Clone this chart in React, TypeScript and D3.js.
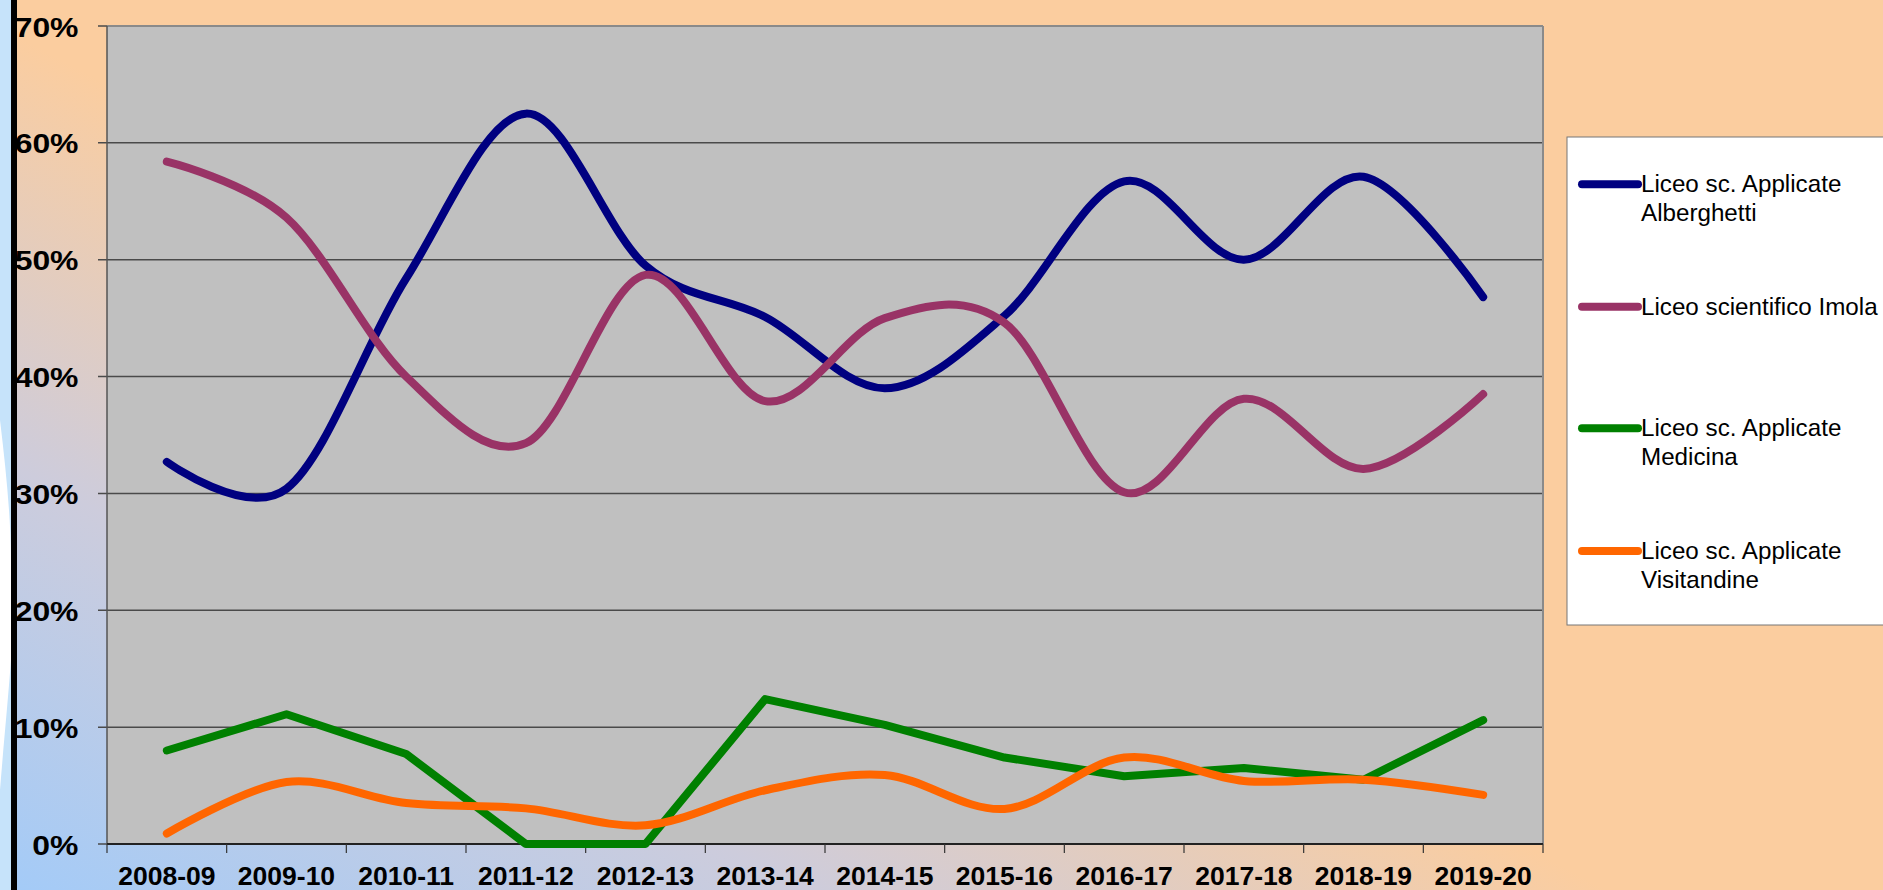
import React from 'react';
import * as d3 from 'd3';

const categories = ['2008-09', '2009-10', '2010-11', '2011-12', '2012-13', '2013-14', '2014-15', '2015-16', '2016-17', '2017-18', '2018-19', '2019-20'];
const alberghetti = [32.7, 30.4, 48.4, 62.5, 49.5, 45.1, 39.0, 45.2, 56.7, 50.0, 57.1, 46.8];
const imola = [58.4, 53.6, 40.0, 34.3, 48.7, 37.9, 45.0, 44.6, 30.1, 38.1, 32.1, 38.5];
const medicina = [8.0, 11.1, 7.7, 0, 0, 12.4, 10.2, 7.4, 5.8, 6.5, 5.5, 10.6];
const visitandine = [0.9, 5.3, 3.5, 3.05, 1.6, 4.6, 5.9, 3.0, 7.4, 5.4, 5.5, 4.2];
const yTicks = [0, 10, 20, 30, 40, 50, 60, 70];

const seriesNames = [['Liceo sc. Applicate', 'Alberghetti'], ['Liceo scientifico Imola'], ['Liceo sc. Applicate', 'Medicina'], ['Liceo sc. Applicate', 'Visitandine']];
const seriesColors = ['#000080', '#993366', '#008000', '#FF6600'];
const seriesData = [alberghetti, imola, medicina, visitandine];
const seriesSmooth = [true, true, false, true];

const W = 1883;
const H = 890;
const FONT = '"Liberation Sans", Arial, Helvetica, sans-serif';

export default function App() {
  const plot = { left: 107, right: 1543, top: 26, bottom: 844 };
  const x = d3.scaleBand<string>().domain(categories).range([plot.left, plot.right]);
  const y = d3.scaleLinear().domain([0, 70]).range([plot.bottom, plot.top]);
  const cx = (c: string) => (x(c) as number) + x.bandwidth() / 2;

  const lineFor = (smooth: boolean) =>
    d3.line<number>()
      .x((_, i) => cx(categories[i]))
      .y((v) => y(v))
      .curve(smooth ? d3.curveCardinal.tension(0) : d3.curveLinear);

  const legendX = 1567;
  const legendTop = 137;
  const legendLineY = [184.3, 306.7, 428.3, 551];

  return (
    <svg width={W} height={H} style={{ position: 'absolute', left: 0, top: 0, display: 'block' }} fontFamily={FONT}>
      <defs>
        <linearGradient id="bg" gradientUnits="userSpaceOnUse" x1={0} y1={890} x2={360} y2={220}>
          <stop offset="0" stopColor="#A3CBF8" />
          <stop offset="0.5" stopColor="#CDCCDC" />
          <stop offset="1" stopColor="#FBCD9F" />
        </linearGradient>
      </defs>
      <rect x={0} y={0} width={W} height={H} fill="#FBCD9F" />
      <rect x={0} y={0} width={W} height={H} fill="url(#bg)" />
      {/* left decorative strip */}
      <rect x={0} y={0} width={12} height={H} fill="#C6E3FA" />
      <path d="M0,420 C6,470 11,520 11,560 L11,660 C8,700 4,740 0,790 Z" fill="#FFFFFF" />
      <rect x={11} y={0} width={6} height={H} fill="#000000" />

      {/* plot area */}
      <rect x={plot.left} y={plot.top} width={plot.right - plot.left} height={plot.bottom - plot.top} fill="#C0C0C0" />
      {yTicks.map((t) => (
        <line key={'g' + t} x1={plot.left - 9} x2={t === 0 || t === 70 ? plot.left : plot.right} y1={y(t)} y2={y(t)} stroke="#4A4A4A" strokeWidth={1.5} />
      ))}
      <line x1={plot.left} x2={plot.right} y1={plot.top} y2={plot.top} stroke="#8A8A8A" strokeWidth={2} />
      <line x1={plot.right} x2={plot.right} y1={plot.top} y2={plot.bottom} stroke="#8A8A8A" strokeWidth={2} />
      <line x1={plot.left} x2={plot.left} y1={plot.top} y2={plot.bottom} stroke="#555555" strokeWidth={1.5} />
      <line x1={plot.left} x2={plot.right} y1={plot.bottom} y2={plot.bottom} stroke="#222222" strokeWidth={2} />
      {categories.map((c) => (
        <line key={'xt' + c} x1={x(c) as number} x2={x(c) as number} y1={plot.bottom} y2={plot.bottom + 9} stroke="#333333" strokeWidth={1.2} />
      ))}
      <line x1={plot.right} x2={plot.right} y1={plot.bottom} y2={plot.bottom + 9} stroke="#333333" strokeWidth={1.2} />

      {/* series */}
      {seriesData.map((d, s) => (
        <path key={'s' + s} d={lineFor(seriesSmooth[s])(d) || ''} fill="none" stroke={seriesColors[s]} strokeWidth={8} strokeLinecap="round" strokeLinejoin="round" />
      ))}

      {/* y labels */}
      {yTicks.map((t) => (
        <text key={'yl' + t} transform={`translate(78.5,${y(t) + 10.5}) scale(1.12,1)`} textAnchor="end" fontSize={28.5} fontWeight="bold" fill="#000">
          {t + '%'}
        </text>
      ))}
      {/* x labels */}
      {categories.map((c) => (
        <text key={'xl' + c} x={cx(c)} y={885} textAnchor="middle" fontSize={26.5} fontWeight="bold" fill="#000">
          {c}
        </text>
      ))}
      {/* black bar drawn over labels */}
      <rect x={11} y={0} width={6} height={H} fill="#000000" />

      {/* legend */}
      <rect x={legendX} y={legendTop} width={400} height={625 - legendTop} fill="#FFFFFF" stroke="#777777" strokeWidth={1} />
      {seriesNames.map((lines, s) => (
        <g key={'lg' + s}>
          <line x1={1582} x2={1638} y1={legendLineY[s]} y2={legendLineY[s]} stroke={seriesColors[s]} strokeWidth={8} strokeLinecap="round" />
          <text x={1641} y={legendLineY[s] + 7.8} fontSize={24.2} fill="#000">
            {lines.map((ln, k) => (
              <tspan key={k} x={1641} dy={k === 0 ? 0 : 28.7}>{ln}</tspan>
            ))}
          </text>
        </g>
      ))}
    </svg>
  );
}
